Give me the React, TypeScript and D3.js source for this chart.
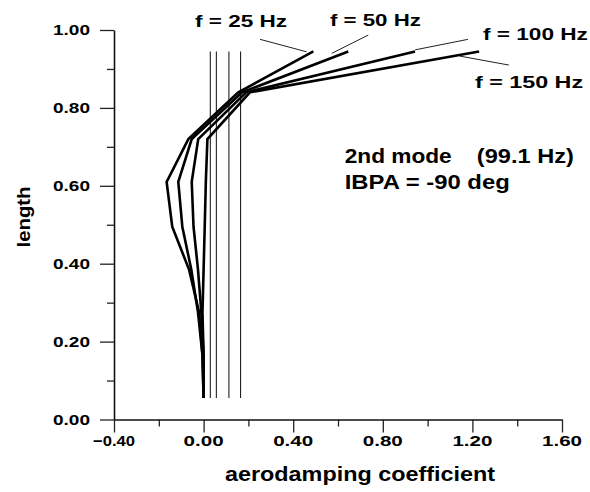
import { useEffect, useRef } from 'react'
import * as d3 from 'd3'

// length stations along the blade (y) and damping per excitation frequency (x)
const lengths = [0.055, 0.165, 0.275, 0.385, 0.495, 0.61, 0.72, 0.84, 0.945]
const f25 = [0.0, -0.005, -0.02, -0.065, -0.14, -0.165, -0.068, 0.155, 0.49]
const f50 = [0.0, -0.005, -0.025, -0.055, -0.095, -0.113, -0.053, 0.172, 0.646]
const f100 = [0.0, 0.0, -0.01, -0.025, -0.045, -0.053, -0.024, 0.19, 0.944]
const f150 = [0.0, 0.0, -0.005, 0.0, 0.005, 0.01, 0.017, 0.207, 1.23]
const seriesNames = ['f = 25 Hz', 'f = 50 Hz', 'f = 100 Hz', 'f = 150 Hz']

// thin vertical reference lines
const refLines = [0.03, 0.057, 0.113, 0.165]
const refSpan = [0.055, 0.945]

const xTicks = [-0.4, 0, 0.4, 0.8, 1.2, 1.6]
const xMinor = [-0.2, 0.2, 0.6, 1.0, 1.4]
const yTicks = [0, 0.2, 0.4, 0.6, 0.8, 1.0]
const yMinor = [0.1, 0.3, 0.5, 0.7, 0.9]

// series label: left/baseline in data units, text width; leader line from -> to
const labelAt = [
  [-0.038, 1.008, 92],
  [0.564, 1.011, 91],
  [1.247, 0.974, 105],
  [1.212, 0.851, 108],
]
const leaders = [
  [0.252, 0.976, 0.46, 0.944],
  [0.735, 0.987, 0.572, 0.94],
  [0.944, 0.949, 1.18, 0.976],
  [1.144, 0.933, 1.363, 0.91],
]

const W = 590
const H = 492
const FONT = '"Liberation Sans", Arial, sans-serif'

export default function App() {
  const ref = useRef<SVGSVGElement | null>(null)

  useEffect(() => {
    if (!ref.current) return
    const svg = d3.select(ref.current)
    svg.selectAll('*').remove()

    const x = d3.scaleLinear().domain([-0.4, 1.6]).range([114, 562])
    const y = d3.scaleLinear().domain([0, 1]).range([419.5, 30])

    const txt = (g: any, s: string, px: number, py: number, size: number, w: number, anchor = 'start') =>
      g
        .append('text')
        .attr('x', px)
        .attr('y', py)
        .attr('font-family', FONT)
        .attr('font-weight', 'bold')
        .attr('font-size', size)
        .attr('text-anchor', anchor)
        .attr('textLength', w)
        .attr('lengthAdjust', 'spacingAndGlyphs')
        .attr('fill', '#000')
        .text(s)

    // axes
    svg
      .append('g')
      .attr('transform', `translate(0,${y(0)})`)
      .call(d3.axisBottom(x).tickValues(xTicks).tickSize(13).tickSizeOuter(0).tickFormat(() => ''))
    svg
      .append('g')
      .attr('transform', `translate(${x(-0.4)},0)`)
      .call(d3.axisLeft(y).tickValues(yTicks).tickSize(14).tickSizeOuter(0).tickFormat(() => ''))
    svg
      .append('g')
      .attr('transform', `translate(0,${y(0)})`)
      .call(d3.axisBottom(x).tickValues(xMinor).tickSize(7).tickFormat(() => ''))
      .call((g) => g.select('.domain').remove())
    svg
      .append('g')
      .attr('transform', `translate(${x(-0.4)},0)`)
      .call(d3.axisLeft(y).tickValues(yMinor).tickSize(7).tickFormat(() => ''))
      .call((g) => g.select('.domain').remove())
    svg.selectAll('.domain').attr('stroke', '#111').attr('stroke-width', 1.6)
    svg.selectAll('.tick line').attr('stroke', '#222').attr('stroke-width', 1.3)

    const fmt = d3.format('.2f')
    xTicks.forEach((v) => txt(svg, fmt(v), x(v), 446, 15, v < 0 ? 42 : 40, 'middle'))
    yTicks.forEach((v) => txt(svg, fmt(v), 90, y(v) + 5, 14, 37, 'end'))

    txt(svg, 'aerodamping coefficient', 360, 481, 19.5, 270, 'middle')
    txt(svg, 'length', 0, 0, 18.5, 61, 'middle').attr('transform', 'translate(30,217) rotate(-90)')

    // reference lines
    svg
      .append('g')
      .selectAll('line')
      .data(refLines)
      .join('line')
      .attr('x1', (d) => x(d))
      .attr('x2', (d) => x(d))
      .attr('y1', y(refSpan[0]))
      .attr('y2', y(refSpan[1]))
      .attr('stroke', '#222')
      .attr('stroke-width', 1.1)

    // curves
    const series = [f25, f50, f100, f150]
    const line = d3
      .line<number>()
      .x((d) => x(d))
      .y((_, i) => y(lengths[i]))
    svg
      .append('g')
      .selectAll('path')
      .data(series)
      .join('path')
      .attr('d', (d) => line(d))
      .attr('fill', 'none')
      .attr('stroke', '#000')
      .attr('stroke-width', 2.6)
      .attr('stroke-linejoin', 'miter')

    // leaders + labels
    svg
      .append('g')
      .selectAll('line')
      .data(leaders)
      .join('line')
      .attr('x1', (d) => x(d[0]))
      .attr('y1', (d) => y(d[1]))
      .attr('x2', (d) => x(d[2]))
      .attr('y2', (d) => y(d[3]))
      .attr('stroke', '#222')
      .attr('stroke-width', 1)
    seriesNames.forEach((s, i) => txt(svg, s, x(labelAt[i][0]), y(labelAt[i][1]), 16.5, labelAt[i][2]))

    txt(svg, '2nd mode', x(0.63), y(0.6585), 20, 107)
    txt(svg, '(99.1 Hz)', x(1.22), y(0.6585), 20, 97)
    txt(svg, 'IBPA = -90 deg', x(0.63), y(0.592), 20, 165)
  }, [])

  return (
    <svg
      ref={ref}
      width={W}
      height={H}
      style={{ position: 'absolute', left: 0, top: 0, background: '#fff' }}
    />
  )
}
